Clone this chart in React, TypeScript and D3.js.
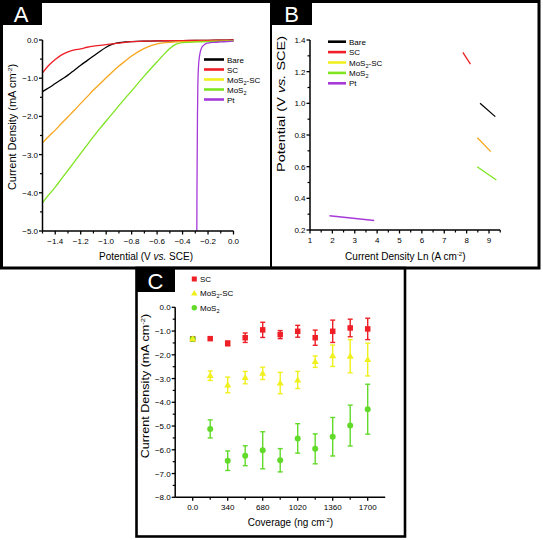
import React from "react";
import * as d3 from "d3";

// ---------- Panel A data (LSV curves) ----------
const potentialA = [-1.5, -1.45, -1.4, -1.35, -1.3, -1.25, -1.2, -1.15, -1.1, -1.05, -1.0, -0.95, -0.9, -0.85, -0.8, -0.7, -0.6, -0.55, -0.5, -0.45, -0.4, -0.3, -0.2, -0.1, 0.0];
const bareA = [-1.35, -1.25, -1.14, -1.03, -0.92, -0.79, -0.66, -0.54, -0.42, -0.3, -0.19, -0.11, -0.07, -0.05, -0.04, -0.03, -0.025, -0.02, -0.02, -0.02, -0.015, -0.01, -0.01, -0.005, 0.0];
const scA = [-0.86, -0.66, -0.51, -0.39, -0.31, -0.26, -0.23, -0.19, -0.16, -0.14, -0.12, -0.1, -0.08, -0.06, -0.045, -0.03, -0.025, -0.02, -0.02, -0.015, -0.015, -0.01, -0.01, -0.005, 0.0];
const mos2scA = [-2.69, -2.52, -2.36, -2.18, -2.01, -1.84, -1.66, -1.49, -1.31, -1.15, -0.99, -0.83, -0.68, -0.55, -0.42, -0.22, -0.1, -0.075, -0.06, -0.05, -0.045, -0.04, -0.035, -0.03, -0.02];
const mos2A = [-4.26, -4.05, -3.85, -3.63, -3.41, -3.19, -2.97, -2.75, -2.53, -2.32, -2.12, -1.92, -1.72, -1.52, -1.33, -0.94, -0.57, -0.39, -0.22, -0.11, -0.07, -0.05, -0.04, -0.035, -0.03];
const ptPotentialA = [-0.288, -0.287, -0.285, -0.283, -0.28, -0.275, -0.268, -0.26, -0.25, -0.235, -0.22, -0.2, -0.15, -0.1, -0.05, 0.0];
const ptCurrentA = [-5.0, -4.0, -3.0, -2.0, -1.2, -0.7, -0.45, -0.3, -0.2, -0.14, -0.1, -0.08, -0.06, -0.05, -0.04, -0.03];
const xTicksA = [-1.4, -1.2, -1.0, -0.8, -0.6, -0.4, -0.2, 0.0];
const xMinorA = [-1.5, -1.3, -1.1, -0.9, -0.7, -0.5, -0.3, -0.1];
const yTicksA = [0, -1, -2, -3, -4, -5];
const yMinorA = [-0.5, -1.5, -2.5, -3.5, -4.5];

// ---------- Panel B data (Tafel segments) ----------
const lnBare = [8.6, 9.28];
const potBare = [1.0, 0.916];
const lnSC = [7.83, 8.17];
const potSC = [1.322, 1.248];
const lnMoS2SC = [8.48, 9.08];
const potMoS2SC = [0.783, 0.695];
const lnMoS2 = [8.47, 9.33];
const potMoS2 = [0.6, 0.516];
const lnPt = [1.87, 3.87];
const potPt = [0.29, 0.26];
const xTicksB = [1, 2, 3, 4, 5, 6, 7, 8, 9];
const xMinorB = [1.5, 2.5, 3.5, 4.5, 5.5, 6.5, 7.5, 8.5, 9.5];
const yTicksB = [0.2, 0.4, 0.6, 0.8, 1.0, 1.2, 1.4];
const yMinorB = [0.3, 0.5, 0.7, 0.9, 1.1, 1.3];

// ---------- Panel C data (coverage) ----------
const coverage = [0, 170, 340, 510, 680, 850, 1020, 1190, 1360, 1530, 1700];
const scC = [-1.33, -1.32, -1.52, -1.28, -0.95, -1.15, -1.01, -1.28, -1.01, -0.87, -0.91];
const scErr = [0.05, 0.06, 0.1, 0.2, 0.32, 0.17, 0.25, 0.32, 0.47, 0.37, 0.45];
const mos2scC = [-1.33, -2.88, -3.27, -2.96, -2.78, -3.19, -3.06, -2.29, -2.04, -2.06, -2.2];
const mos2scErr = [0.0, 0.2, 0.33, 0.26, 0.26, 0.45, 0.36, 0.24, 0.45, 0.7, 0.69];
const mos2C = [-1.33, -5.12, -6.46, -6.25, -6.02, -6.44, -5.52, -5.96, -5.45, -4.98, -4.29];
const mos2Err = [0.0, 0.38, 0.41, 0.42, 0.78, 0.49, 0.62, 0.63, 0.81, 0.86, 1.05];
const xTicksC = [0, 340, 680, 1020, 1360, 1700];
const xTickLabelsC = ["0.0", "340", "680", "1020", "1360", "1700"];
const xMinorC = [170, 510, 850, 1190, 1530];
const yTicksC = [0, -1, -2, -3, -4, -5, -6, -7, -8];
const yMinorC = [-0.5, -1.5, -2.5, -3.5, -4.5, -5.5, -6.5, -7.5];

const FONT = "'Liberation Sans', Arial, Helvetica, sans-serif";
const C_BLACK = "#000000";
const C_RED = "#ee1f26";
const C_ORANGE = "#f7a51d";
const C_YELLOW = "#f0f01e";
const C_GREEN = "#7ee420";
const C_PURPLE = "#a63ad8";
const C_GREEN_C = "#62da2a";

const fmt1 = d3.format(".1f");

function MoS2Label({ suffix }: { suffix?: string }) {
  return (
    <>
      <tspan>MoS</tspan>
      <tspan fontSize={5.5} dy={2}>2</tspan>
      <tspan dy={-2}>{suffix || ""}</tspan>
    </>
  );
}

function PanelLabel({ x, y, w, h, letter }: { x: number; y: number; w: number; h: number; letter: string }) {
  return (
    <g>
      <rect x={x} y={y} width={w} height={h} fill="#000" />
      <text x={x + w / 2} y={y + h - 3} textAnchor="middle" fill="#fff" fontSize={22} fontFamily={FONT}>
        {letter}
      </text>
    </g>
  );
}

function LeftAxis({ scale, x, ticks, minor, labels, y0, y1 }: any) {
  return (
    <g>
      <line x1={x} x2={x} y1={y0} y2={y1} stroke="#000" strokeWidth={1.5} />
      {ticks.map((t: number, i: number) => (
        <g key={"t" + i}>
          <line x1={x - 3.5} x2={x} y1={scale(t)} y2={scale(t)} stroke="#000" strokeWidth={1.3} />
          <text x={x - 4.5} y={scale(t) + 3} textAnchor="end" fontSize={8} fontFamily={FONT}>
            {labels[i]}
          </text>
        </g>
      ))}
      {minor.map((t: number, i: number) => (
        <line key={"m" + i} x1={x - 2.5} x2={x} y1={scale(t)} y2={scale(t)} stroke="#000" strokeWidth={1.2} />
      ))}
    </g>
  );
}

function BottomAxis({ scale, y, ticks, minor, labels, x0, x1 }: any) {
  return (
    <g>
      <line x1={x0} x2={x1} y1={y} y2={y} stroke="#000" strokeWidth={1.5} />
      {ticks.map((t: number, i: number) => (
        <g key={"t" + i}>
          <line x1={scale(t)} x2={scale(t)} y1={y} y2={y + 3.5} stroke="#000" strokeWidth={1.3} />
          <text x={scale(t)} y={y + 13} textAnchor="middle" fontSize={8} fontFamily={FONT}>
            {labels[i]}
          </text>
        </g>
      ))}
      {minor.map((t: number, i: number) => (
        <line key={"m" + i} x1={scale(t)} x2={scale(t)} y1={y} y2={y + 2.5} stroke="#000" strokeWidth={1.2} />
      ))}
    </g>
  );
}

function CurrentDensityTitle() {
  return (
    <>
      <tspan>Current Density (mA cm</tspan>
      <tspan fontSize={6} dy={-4}>-2</tspan>
      <tspan dy={4}>)</tspan>
    </>
  );
}

function PanelA() {
  const x = d3.scaleLinear().domain([-1.5, 0]).range([42.5, 233.5]);
  const y = d3.scaleLinear().domain([-5, 0]).range([231, 40]);
  const line = d3
    .line<[number, number]>()
    .x((d) => x(d[0]))
    .y((d) => y(d[1]))
    .curve(d3.curveMonotoneX);
  const series = [
    { name: "Bare", vals: bareA, color: C_BLACK },
    { name: "SC", vals: scA, color: C_RED },
    { name: "MoS2-SC", vals: mos2scA, color: C_ORANGE },
    { name: "MoS2", vals: mos2A, color: C_GREEN },
  ];
  const ptPts = ptPotentialA.map((p, i) => [p, ptCurrentA[i]] as [number, number]);
  const legend = [
    { label: <tspan>Bare</tspan>, color: C_BLACK },
    { label: <tspan>SC</tspan>, color: C_RED },
    { label: <MoS2Label suffix="-SC" />, color: C_YELLOW },
    { label: <MoS2Label />, color: C_GREEN },
    { label: <tspan>Pt</tspan>, color: C_PURPLE },
  ];
  return (
    <g>
      {series.map((s) => (
        <path
          key={s.name}
          d={line(potentialA.map((p, i) => [p, s.vals[i]] as [number, number])) || ""}
          fill="none"
          stroke={s.color}
          strokeWidth={1.3}
        />
      ))}
      <path d={line(ptPts) || ""} fill="none" stroke={C_PURPLE} strokeWidth={1.3} />
      <LeftAxis scale={y} x={42.5} ticks={yTicksA} minor={yMinorA} labels={yTicksA.map((t) => fmt1(t))} y0={40} y1={231} />
      <BottomAxis scale={x} y={231} ticks={xTicksA} minor={xMinorA} labels={xTicksA.map((t) => fmt1(t))} x0={42.5} x1={233.5} />
      {legend.map((l, i) => (
        <g key={i}>
          <line x1={204} x2={224} y1={59.5 + i * 10} y2={59.5 + i * 10} stroke={l.color} strokeWidth={2.6} />
          <text x={227} y={62.5 + i * 10} fontSize={8} fontFamily={FONT}>
            {l.label}
          </text>
        </g>
      ))}
      <text x={146} y={259.5} textAnchor="middle" fontSize={10} fontFamily={FONT}>
        <tspan>Potential (V </tspan>
        <tspan fontStyle="italic">vs.</tspan>
        <tspan> SCE)</tspan>
      </text>
      <text transform="translate(15.5,127) rotate(-90) scale(1.1,1)" textAnchor="middle" fontSize={10} fontFamily={FONT}>
        <CurrentDensityTitle />
      </text>
    </g>
  );
}

function PanelB() {
  const x = d3.scaleLinear().domain([1, 9.5]).range([310, 500.2]);
  const y = d3.scaleLinear().domain([0.2, 1.4]).range([230, 40]);
  const line = d3
    .line<[number, number]>()
    .x((d) => x(d[0]))
    .y((d) => y(d[1]));
  const series = [
    { xs: lnBare, ys: potBare, color: C_BLACK },
    { xs: lnSC, ys: potSC, color: C_RED },
    { xs: lnMoS2SC, ys: potMoS2SC, color: C_ORANGE },
    { xs: lnMoS2, ys: potMoS2, color: C_GREEN },
    { xs: lnPt, ys: potPt, color: C_PURPLE },
  ];
  const legend = [
    { label: <tspan>Bare</tspan>, color: C_BLACK },
    { label: <tspan>SC</tspan>, color: C_RED },
    { label: <MoS2Label suffix="-SC" />, color: C_YELLOW },
    { label: <MoS2Label />, color: C_GREEN },
    { label: <tspan>Pt</tspan>, color: C_PURPLE },
  ];
  return (
    <g>
      {series.map((s, k) => (
        <path
          key={k}
          d={line(s.xs.map((v, i) => [v, s.ys[i]] as [number, number])) || ""}
          fill="none"
          stroke={s.color}
          strokeWidth={1.3}
        />
      ))}
      <LeftAxis scale={y} x={310} ticks={yTicksB} minor={yMinorB} labels={yTicksB.map((t) => fmt1(t))} y0={40} y1={230} />
      <BottomAxis scale={x} y={230} ticks={xTicksB} minor={xMinorB} labels={xTicksB.map((t) => String(t))} x0={310} x1={500.2} />
      {legend.map((l, i) => (
        <g key={i}>
          <line x1={328} x2={346} y1={41.7 + i * 10.4} y2={41.7 + i * 10.4} stroke={l.color} strokeWidth={2.6} />
          <text x={349} y={44.7 + i * 10.4} fontSize={8} fontFamily={FONT}>
            {l.label}
          </text>
        </g>
      ))}
      <text x={405.3} y={259.5} textAnchor="middle" fontSize={10} fontFamily={FONT}>
        <tspan>Current Density Ln (A cm</tspan>
        <tspan fontSize={6} dy={-4}>-2</tspan>
        <tspan dy={4}>)</tspan>
      </text>
      <text transform="translate(285,104) rotate(-90) scale(1.45,1)" textAnchor="middle" fontSize={10} fontFamily={FONT}>
        <tspan>Potential (V </tspan>
        <tspan fontStyle="italic">vs.</tspan>
        <tspan> SCE)</tspan>
      </text>
    </g>
  );
}

function Square({ cx, cy, color, s = 5.5 }: any) {
  return <rect x={cx - s / 2} y={cy - s / 2} width={s} height={s} fill={color} />;
}
function Triangle({ cx, cy, color, s = 7 }: any) {
  const h = s * 0.866;
  return <path d={`M${cx},${cy - h * 0.6}L${cx + s / 2},${cy + h * 0.4}L${cx - s / 2},${cy + h * 0.4}Z`} fill={color} />;
}
function Circle({ cx, cy, color, r = 3 }: any) {
  return <circle cx={cx} cy={cy} r={r} fill={color} />;
}

function PanelC() {
  const x = d3.scaleLinear().domain([-170, 1870]).range([175.2, 385.2]);
  const y = d3.scaleLinear().domain([-8, 0]).range([497.3, 307.3]);
  const series = [
    { vals: scC, err: scErr, color: C_RED, M: Square },
    { vals: mos2C, err: mos2Err, color: C_GREEN_C, M: Circle },
    { vals: mos2scC, err: mos2scErr, color: C_YELLOW, M: Triangle },
  ];
  return (
    <g>
      <LeftAxis scale={y} x={175.2} ticks={yTicksC} minor={yMinorC} labels={yTicksC.map((t) => fmt1(t))} y0={307.3} y1={497.3} />
      <BottomAxis scale={x} y={497.3} ticks={xTicksC} minor={xMinorC} labels={xTickLabelsC} x0={175.2} x1={385.2} />
      {series.map((s, k) => (
        <g key={k}>
          {coverage.map((c, i) =>
            s.err[i] > 0.06 ? (
              <g key={"e" + i} stroke={s.color} strokeWidth={1.4}>
                <line x1={x(c)} x2={x(c)} y1={y(s.vals[i] - s.err[i])} y2={y(s.vals[i] + s.err[i])} />
                <line x1={x(c) - 2.5} x2={x(c) + 2.5} y1={y(s.vals[i] - s.err[i])} y2={y(s.vals[i] - s.err[i])} />
                <line x1={x(c) - 2.5} x2={x(c) + 2.5} y1={y(s.vals[i] + s.err[i])} y2={y(s.vals[i] + s.err[i])} />
              </g>
            ) : null
          )}
          {coverage.map((c, i) => (
            <s.M key={"m" + i} cx={x(c)} cy={y(s.vals[i])} color={s.color} />
          ))}
        </g>
      ))}
      <Square cx={194.3} cy={279} color={C_RED} s={5} />
      <text x={200} y={282} fontSize={8} fontFamily={FONT}>SC</text>
      <Triangle cx={194.3} cy={293.3} color={C_YELLOW} s={6.5} />
      <text x={200} y={296.3} fontSize={8} fontFamily={FONT}>
        <MoS2Label suffix="-SC" />
      </text>
      <Circle cx={194.3} cy={307.7} color={C_GREEN_C} r={2.7} />
      <text x={200} y={310.7} fontSize={8} fontFamily={FONT}>
        <MoS2Label />
      </text>
      <text x={290.5} y={526} textAnchor="middle" fontSize={10} fontFamily={FONT}>
        <tspan>Coverage (ng cm</tspan>
        <tspan fontSize={6} dy={-4}>-2</tspan>
        <tspan dy={4}>)</tspan>
      </text>
      <text transform="translate(148.5,386) rotate(-90) scale(1.26,1)" textAnchor="middle" fontSize={10} fontFamily={FONT}>
        <CurrentDensityTitle />
      </text>
    </g>
  );
}

export default function App() {
  return (
    <svg
      width={543}
      height={540}
      style={{ position: "absolute", left: 0, top: 0, background: "#fff" }}
      fontFamily={FONT}
    >
      <rect x={0} y={0} width={543} height={540} fill="#fff" />
      <PanelA />
      <PanelB />
      <PanelC />
      {/* frames */}
      <rect x={1.5} y={1.5} width={537.5} height={266.5} fill="none" stroke="#000" strokeWidth={3} />
      <line x1={271} x2={271} y1={1.5} y2={268} stroke="#000" strokeWidth={2} />
      <rect x={136.5} y={268} width={268.5} height={268.5} fill="none" stroke="#000" strokeWidth={2.6} />
      <PanelLabel x={0} y={0} w={42} h={25} letter="A" />
      <PanelLabel x={271} y={0} w={41} h={25} letter="B" />
      <PanelLabel x={136} y={268} w={39} h={24} letter="C" />
    </svg>
  );
}
